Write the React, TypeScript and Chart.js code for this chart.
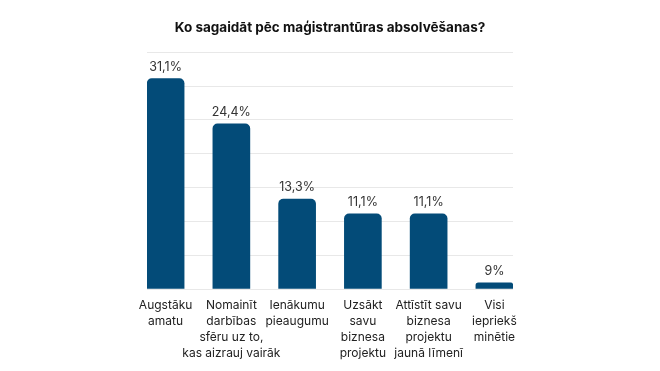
import React, { useEffect, useRef } from "react";
import { Chart, registerables } from "chart.js";

Chart.register(...registerables);

const title = "Ko sagaidāt pēc maģistrantūras absolvēšanas?";
const categories: string[][] = [
  ["Augstāku", "amatu"],
  ["Nomainīt", "darbības", "sfēru uz to,", "kas aizrauj vairāk"],
  ["Ienākumu", "pieaugumu"],
  ["Uzsākt", "savu", "biznesa", "projektu"],
  ["Attīstīt savu", "biznesa", "projektu", "jaunā līmenī"],
  ["Visi", "iepriekš", "minētie"],
];
const values: number[] = [31.1, 24.4, 13.3, 11.1, 11.1, 0.9];
const valueLabels: string[] = ["31,1%", "24,4%", "13,3%", "11,1%", "11,1%", "9%"];

const FONT = "Inter, 'Noto Sans', sans-serif";

const valueLabelPlugin = {
  id: "valueLabels",
  afterDatasetsDraw(chart: any) {
    const ctx = chart.ctx;
    const meta = chart.getDatasetMeta(0);
    ctx.save();
    ctx.font = `400 12.5px ${FONT}`;
    ctx.fillStyle = "#333333";
    ctx.textAlign = "center";
    ctx.textBaseline = "alphabetic";
    meta.data.forEach((el: any, i: number) => {
      ctx.fillText(valueLabels[i], el.x, el.y - 8);
    });
    ctx.restore();
  },
};

export default function App() {
  const ref = useRef<HTMLCanvasElement>(null);
  useEffect(() => {
    if (!ref.current) return;
    const chart = new Chart(ref.current, {
      type: "bar",
      data: {
        datasets: [
          {
            data: values.map((v, i) => ({ x: i, y: v })),
            backgroundColor: "#034B78",
            borderRadius: { topLeft: 5, topRight: 5, bottomLeft: 0, bottomRight: 0 },
            borderSkipped: "bottom",
            barThickness: 37,
          },
        ],
      },
      options: {
        animation: false,
        responsive: true,
        maintainAspectRatio: false,
        layout: { padding: { left: 147, right: 147, top: 0, bottom: 10 } },
        plugins: {
          legend: { display: false },
          tooltip: { enabled: false },
          title: {
            display: true,
            text: title,
            color: "#111111",
            font: { family: FONT, size: 13.5, weight: "bold" },
            padding: { top: 20, bottom: 16 },
          },
        },
        scales: {
          x: {
            type: "linear",
            min: -0.283,
            max: 5.283,
            offset: false,
            grid: { display: false },
            border: { display: false },
            afterBuildTicks: (axis: any) => {
              axis.ticks = values.map((_, i) => ({ value: i }));
            },
            ticks: {
              autoSkip: false,
              maxRotation: 0,
              minRotation: 0,
              padding: 0,
              color: "#222222",
              font: { family: FONT, size: 12, lineHeight: "16px" },
              callback: (v: any) => categories[Math.round(Number(v))] ?? "",
            },
          },
          y: {
            min: 0,
            max: 35,
            ticks: { display: false, stepSize: 5 },
            grid: { color: "#e8e8e8", drawTicks: false },
            border: { display: false },
          },
        },
      },
      plugins: [valueLabelPlugin],
    } as any);
    return () => chart.destroy();
  }, []);
  return (
    <div style={{ position: "fixed", left: 0, top: 0, width: 660, height: 371, background: "#fff" }}>
      <canvas ref={ref} />
    </div>
  );
}
